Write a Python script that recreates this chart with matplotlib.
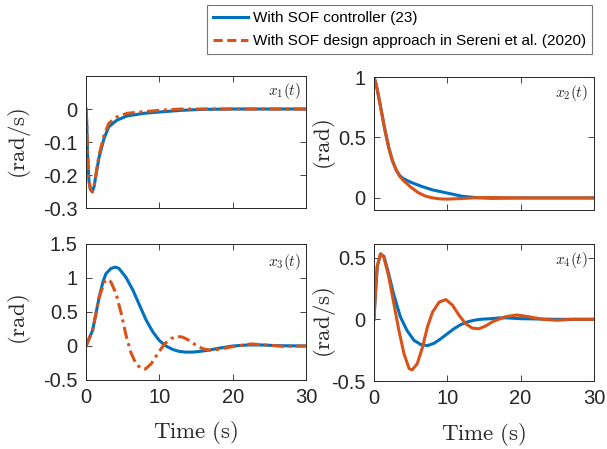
import matplotlib
matplotlib.use('Agg')
import matplotlib.pyplot as plt

# x1(t)  (rad/s)
t1_sof = [0, 0.1, 0.2, 0.4, 0.6, 0.86, 1.1, 1.3, 1.77, 2.45, 3.1, 4.2, 5.6, 7.9, 10.6, 13, 16, 20, 30]
x1_sof = [0, -0.04, -0.13, -0.218, -0.244, -0.251, -0.235, -0.208, -0.147, -0.09, -0.054, -0.034, -0.021,
          -0.013, -0.008, -0.004, -0.001, 0, 0]
t1_ser = [0, 0.1, 0.2, 0.4, 0.6, 0.86, 1.1, 1.3, 1.77, 2.45, 3.1, 4.2, 5.6, 7.9, 10.6, 13, 30]
x1_ser = [0, -0.04, -0.13, -0.218, -0.244, -0.251, -0.233, -0.205, -0.14, -0.08, -0.044, -0.024, -0.013,
          -0.008, -0.003, 0, 0]

# x2(t)  (rad)
t2_sof = [0, 0.25, 0.5, 0.75, 1, 1.5, 2, 2.5, 3, 3.5, 4, 5, 6.5, 8, 10, 12, 14, 16, 20, 30]
x2_sof = [1, 0.95, 0.88, 0.8, 0.72, 0.56, 0.42, 0.31, 0.235, 0.185, 0.16, 0.13, 0.095, 0.066, 0.04, 0.014,
          0.002, -0.003, 0, 0]
t2_ser = [0, 0.25, 0.5, 0.75, 1, 1.5, 2, 2.5, 3, 3.5, 4, 5, 6, 7, 8, 9, 10, 12, 14, 16, 20, 30]
x2_ser = [1, 0.95, 0.88, 0.8, 0.72, 0.56, 0.42, 0.31, 0.235, 0.18, 0.145, 0.09, 0.045, 0.015, 0.0, -0.008,
          -0.01, -0.005, 0.002, 0.003, 0, 0]

# x3(t)  (rad)
t3_sof = [0, 0.9, 1.8, 2.3, 2.7, 3.4, 4.0, 4.5, 5.45, 6.4, 7.3, 8.2, 9.1, 10, 10.9, 11.8, 12.7, 13.6, 14.5,
          15.5, 16.8, 18, 20, 22, 24, 26, 30]
x3_sof = [0, 0.23, 0.72, 0.94, 1.06, 1.14, 1.16, 1.14, 1.01, 0.82, 0.6, 0.38, 0.21, 0.08, 0, -0.05, -0.08,
          -0.09, -0.09, -0.08, -0.06, -0.035, 0, 0.015, 0.015, 0.005, 0]
t3_ser = [0, 0.9, 1.8, 2.5, 3.0, 3.4, 4.1, 4.8, 5.45, 6.1, 6.8, 7.5, 8.1, 8.9, 9.8, 10.7, 11.6, 12.5, 13.2,
          14.1, 15, 15.9, 16.8, 18, 20, 22.5, 25, 27, 30]
x3_ser = [0, 0.23, 0.72, 0.94, 0.98, 0.94, 0.77, 0.48, 0.16, -0.09, -0.26, -0.33, -0.34, -0.26, -0.11, 0.03,
          0.11, 0.14, 0.13, 0.08, 0.01, -0.04, -0.06, -0.05, -0.01, 0.03, 0.01, -0.005, 0]

# x4(t)  (rad/s)
t4_sof = [0, 0.23, 0.45, 0.9, 1.36, 2.0, 2.7, 3.6, 4.5, 5.45, 6.4, 7.3, 8.2, 9.1, 10, 10.9, 11.8, 12.7, 13.6,
          14.5, 15.9, 17, 18, 20, 25, 30]
x4_sof = [0, 0.24, 0.43, 0.53, 0.51, 0.37, 0.2, 0.02, -0.09, -0.17, -0.205, -0.213, -0.194, -0.158, -0.117,
          -0.077, -0.044, -0.022, -0.008, 0, 0.005, 0.011, 0.012, 0.005, 0, 0]
t4_ser = [0, 0.23, 0.45, 0.9, 1.36, 2.0, 2.7, 3.4, 4.1, 4.8, 5.2, 5.9, 6.6, 7.3, 8.0, 8.9, 9.8, 10.7, 11.6,
          12.5, 13.4, 14.3, 15.2, 16.1, 17, 18, 19.5, 21, 23, 25, 27, 30]
x4_ser = [0, 0.24, 0.43, 0.53, 0.5, 0.35, 0.13, -0.09, -0.28, -0.4, -0.41, -0.36, -0.23, -0.06, 0.06, 0.14,
          0.16, 0.115, 0.033, -0.036, -0.071, -0.077, -0.055, -0.022, 0, 0.022, 0.035, 0.022, 0, -0.008, 0, 0]

blue = '#0072BD'
orange = '#D95319'
dark = '#262626'

plt.rcParams['font.family'] = ['Liberation Sans', 'DejaVu Sans']
plt.rcParams['mathtext.fontset'] = 'cm'

fig = plt.figure(figsize=(6.07, 4.49), dpi=100)

panels = [
    dict(pos=[0.1417, 0.5367, 0.3624, 0.294], ts=t1_sof, xs=x1_sof, tr=t1_ser, xr=x1_ser,
         ylim=(-0.3, 0.1), yt=[-0.3, -0.2, -0.1, 0], ytl=['-0.3', '-0.2', '-0.1', '0'],
         yl=r'$\mathrm{(rad/s)}$', ylc=(-0.24, 0.49), tag=r'$x_1(t)$', tagy=0.886, dash=True, xlab=False),
    dict(pos=[0.6161, 0.5323, 0.3624, 0.2962], ts=t2_sof, xs=x2_sof, tr=t2_ser, xr=x2_ser,
         ylim=(-0.1, 1.0), yt=[0, 0.5, 1], ytl=['0', '0.5', '1'],
         yl=r'$\mathrm{(rad)}$', ylc=(-0.164, 0.49), tag=r'$x_2(t)$', tagy=0.88, dash=False, xlab=False),
    dict(pos=[0.1417, 0.1537, 0.3624, 0.3029], ts=t3_sof, xs=x3_sof, tr=t3_ser, xr=x3_ser,
         ylim=(-0.5, 1.5), yt=[-0.5, 0, 0.5, 1, 1.5], ytl=['-0.5', '0', '0.5', '1', '1.5'],
         yl=r'$\mathrm{(rad)}$', ylc=(-0.24, 0.44), tag=r'$x_3(t)$', tagy=0.87, dash=True, xlab=True),
    dict(pos=[0.6161, 0.1514, 0.3624, 0.3051], ts=t4_sof, xs=x4_sof, tr=t4_ser, xr=x4_ser,
         ylim=(-0.5, 0.61), yt=[-0.5, 0, 0.5], ytl=['-0.5', '0', '0.5'],
         yl=r'$\mathrm{(rad/s)}$', ylc=(-0.164, 0.43), tag=r'$x_4(t)$', tagy=0.88, dash=False, xlab=True),
]

handles = None
for p in panels:
    ax = fig.add_axes(p['pos'])
    l1, = ax.plot(p['ts'], p['xs'], color=blue, lw=2.2, label='With SOF controller (23)')
    ls = (0, (4, 1.5, 1, 1.5)) if p['dash'] else '-'
    l2, = ax.plot(p['tr'], p['xr'], color=orange, lw=2.2, ls=ls,
                  label='With SOF design approach in Sereni et al. (2020)')
    if handles is None:
        handles = [l1, l2]
    ax.set_xlim(0, 30)
    ax.set_ylim(*p['ylim'])
    ax.set_xticks([0, 10, 20, 30])
    ax.set_yticks(p['yt'])
    ax.set_yticklabels(p['ytl'])
    if p['xlab']:
        ax.set_xticklabels(['0', '10', '20', '30'])
        ax.set_xlabel(r'$\mathrm{Time\ (s)}$', fontsize=16.5, color=dark)
        ax.xaxis.set_label_coords(0.5, -0.29)
    else:
        ax.set_xticklabels([])
    ax.tick_params(direction='in', length=4, width=0.6, top=True, right=True,
                   labelsize=14.5, colors=dark)
    ax.tick_params(axis='x', pad=6)
    ax.tick_params(axis='y', pad=6)
    for s in ax.spines.values():
        s.set_linewidth(0.7)
        s.set_color(dark)
    ax.set_ylabel(p['yl'], fontsize=16.5, color=dark)
    ax.yaxis.set_label_coords(*p['ylc'])
    ax.text(0.975, p['tagy'], p['tag'], transform=ax.transAxes, ha='right', va='center',
            fontsize=11, color=dark)

leg = fig.legend(handles=handles, loc='upper right', bbox_to_anchor=(592 / 607, 1 - 5 / 449),
                 bbox_transform=fig.transFigure, fontsize=11, frameon=True, fancybox=False,
                 borderaxespad=0, handlelength=2.3, handletextpad=0.3, borderpad=0.4,
                 labelspacing=0.6)
leg.get_frame().set_edgecolor('#555555')
leg.get_frame().set_linewidth(0.8)
leg.get_lines()[0].set_linestyle('-')
leg.get_lines()[1].set_linestyle((0, (3, 1.5)))

fig.savefig('out.png', dpi=100)
